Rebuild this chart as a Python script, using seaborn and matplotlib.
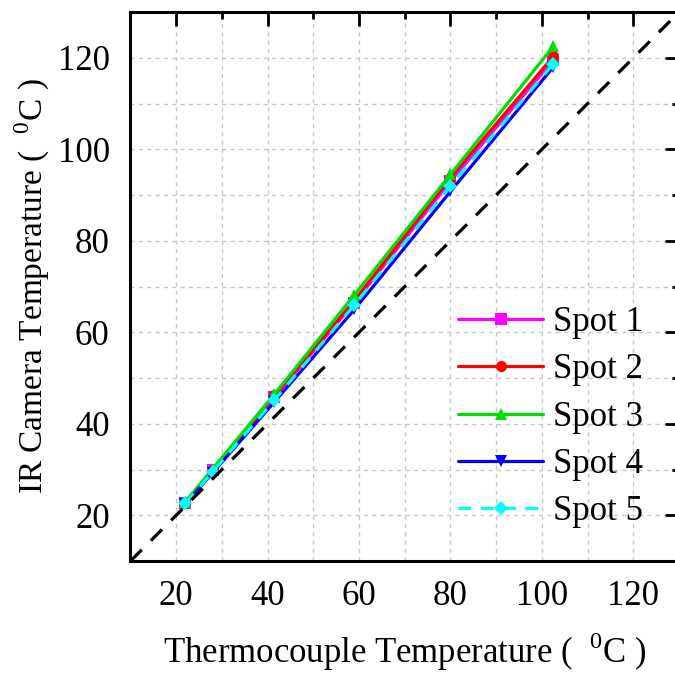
import matplotlib
matplotlib.use("Agg")
import matplotlib.pyplot as plt
import seaborn as sns
import numpy as np
from matplotlib.ticker import MultipleLocator

thermocouple = [22, 28, 41.5, 59, 80, 102.5]
spot1 = [22.7, 29.8, 45.8, 66.5, 93.0, 119.5]
spot2 = [22.8, 30.0, 46.2, 67.0, 93.8, 120.3]
spot3 = [22.9, 30.2, 46.5, 68.2, 94.5, 122.5]
spot4 = [22.5, 29.3, 44.8, 65.0, 90.8, 118.0]
spot5 = [22.6, 29.5, 45.2, 66.0, 92.0, 118.7]
labels = ["Spot 1", "Spot 2", "Spot 3", "Spot 4", "Spot 5"]
ref_line = [10, 130]

sns.set_style("white")
plt.rcParams["font.family"] = ["Liberation Serif", "DejaVu Serif"]
plt.rcParams["mathtext.fontset"] = "custom"
plt.rcParams["mathtext.rm"] = "Liberation Serif"
plt.rcParams["text.color"] = "black"
plt.rcParams["axes.labelcolor"] = "black"

fig = plt.figure(figsize=(6.75, 6.73), dpi=100)
ax = fig.add_axes([0.1933, 0.1664, 0.8127, 0.8156])

styles = [
    dict(color="#ff00ff", marker="s", linestyle="-"),
    dict(color="#ff0000", marker="o", linestyle="-"),
    dict(color="#00e000", marker="^", linestyle="-"),
    dict(color="#0000ff", marker="v", linestyle="-"),
    dict(color="#00ffff", marker="D", linestyle=(0, (4, 3))),
]
series = [spot1, spot2, spot3, spot4, spot5]
for vals, lab, st in zip(series, labels, styles):
    sns.lineplot(x=thermocouple, y=vals, ax=ax, label=lab, color=st["color"],
                 marker=st["marker"], linestyle=st["linestyle"], linewidth=2.3,
                 markersize=8 if st["marker"] != "D" else 7, markeredgewidth=0)

sns.lineplot(x=ref_line, y=ref_line, ax=ax, color="black", linewidth=2.3,
             linestyle=(0, (5, 4)), legend=False)

ax.set_xlim(10, 130)
ax.set_ylim(10, 130)
ax.xaxis.set_major_locator(MultipleLocator(20))
ax.yaxis.set_major_locator(MultipleLocator(20))
ax.xaxis.set_minor_locator(MultipleLocator(10))
ax.yaxis.set_minor_locator(MultipleLocator(10))
ax.grid(True, which="both", color="#c8c8c8", linestyle=(0, (3, 3)), linewidth=1)
ax.set_axisbelow(True)
for s in ax.spines.values():
    s.set_linewidth(2.2)
    s.set_color("black")
ax.tick_params(which="both", direction="in", top=True, right=True, width=2,
               colors="black", labelcolor="black", labelsize=25)
ax.tick_params(which="major", length=10)
ax.tick_params(which="minor", length=5)
ax.tick_params(axis="x", which="major", pad=14)
ax.tick_params(axis="y", which="major", pad=15)

ax.set_xlabel(r"Thermocouple Temperature (  $^\mathrm{0}$C )", fontsize=25, labelpad=12)
ax.set_ylabel(r"IR Camera Temperature (  $^\mathrm{0}$C )", fontsize=24, labelpad=4)

leg = ax.legend(loc="center left", bbox_to_anchor=(0.597, 0.262), frameon=False,
                fontsize=25, handlelength=2.45, handletextpad=0.29, labelspacing=0.41,
                borderpad=0, borderaxespad=0)

fig.savefig("out.png", dpi=100)
